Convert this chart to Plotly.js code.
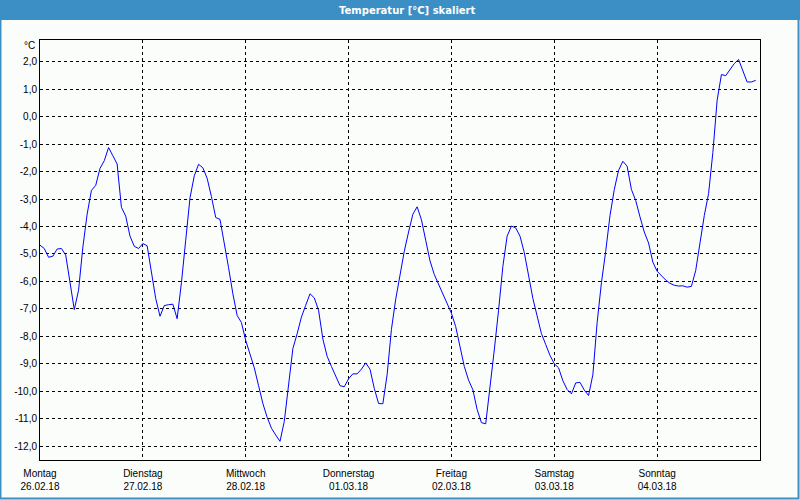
<!DOCTYPE html>
<html>
<head>
<meta charset="utf-8">
<script src="https://cdn.plot.ly/plotly-3.0.1.min.js"></script>
<style>
html,body{margin:0;padding:0;background:#fafdfa;}
#chart{width:800px;height:500px;}
</style>
</head>
<body>
<div id="chart"></div>
<script>
// hourly readings starting 26.02.18 00:00
const startTime = "2018-02-26T00:00:00";
const temps = [
-4.68,-4.80,-5.12,-5.08,-4.82,-4.80,-5.04,-5.96,-7.03,-6.32,
-4.75,-3.55,-2.68,-2.50,-1.88,-1.60,-1.12,-1.42,-1.72,-3.30,
-3.62,-4.35,-4.72,-4.80,-4.62,-4.70,-5.65,-6.62,-7.27,-6.88,
-6.85,-6.83,-7.36,-6.05,-4.50,-2.95,-2.15,-1.73,-1.86,-2.24,
-2.91,-3.67,-3.74,-4.55,-5.50,-6.45,-7.24,-7.50,-8.15,-8.65,
-9.15,-9.80,-10.45,-10.95,-11.35,-11.60,-11.83,-11.10,-9.70,-8.45,
-7.91,-7.30,-6.87,-6.45,-6.60,-7.05,-8.10,-8.73,-9.10,-9.45,
-9.80,-9.84,-9.55,-9.37,-9.37,-9.20,-8.97,-9.20,-9.90,-10.45,
-10.46,-9.40,-7.75,-6.65,-5.75,-4.90,-4.20,-3.55,-3.28,-3.75,
-4.50,-5.25,-5.75,-6.10,-6.45,-6.85,-7.16,-7.65,-8.40,-9.10,
-9.60,-9.95,-10.67,-11.15,-11.19,-9.90,-8.50,-7.05,-5.45,-4.35,
-3.98,-4.05,-4.35,-4.95,-5.75,-6.62,-7.26,-7.90,-8.30,-8.70,
-9.00,-9.15,-9.62,-9.94,-10.10,-9.70,-9.68,-9.96,-10.16,-9.40,
-7.50,-6.05,-4.90,-3.60,-2.65,-1.95,-1.62,-1.80,-2.65,-3.05,
-3.65,-4.20,-4.60,-5.30,-5.63,-5.80,-5.95,-6.07,-6.14,-6.17,
-6.16,-6.21,-6.18,-5.60,-4.60,-3.60,-2.80,-1.30,0.60,1.54,
1.50,1.72,1.94,2.09,1.65,1.27,1.27,1.33
];
const dayNames = ["Montag","Dienstag","Mittwoch","Donnerstag","Freitag","Samstag","Sonntag"];
const dayDates = ["26.02.18","27.02.18","28.02.18","01.03.18","02.03.18","03.03.18","04.03.18"];
const dayTicks = ["2018-02-26","2018-02-27","2018-02-28","2018-03-01","2018-03-02","2018-03-03","2018-03-04"];
const yTicks = [2,1,0,-1,-2,-3,-4,-5,-6,-7,-8,-9,-10,-11,-12];
const yTickText = yTicks.map(v => v.toFixed(1).replace(".", ","));

const t0 = new Date(startTime + "Z").getTime();
const times = temps.map((_, i) => {
  const d = new Date(t0 + i * 3600000);
  return d.toISOString().slice(0,19).replace("T"," ");
});

const fontFam = "Liberation Sans, Arial, sans-serif";
const blue = "#3b8fc4";

const trace = {
  x: times, y: temps, type: "scatter", mode: "lines",
  line: {color: "#0000ff", width: 1}, hoverinfo: "x+y"
};

const layout = {
  width: 800, height: 500,
  margin: {l: 40, r: 40, t: 40, b: 40},
  paper_bgcolor: "#fafdfa", plot_bgcolor: "#fafdfa",
  showlegend: false,
  font: {family: fontFam, size: 10, color: "#000"},
  title: {text: "<b>Temperatur [°C] skaliert</b>", font: {family: "DejaVu Sans, sans-serif", size: 10, color: "#ffffff"},
          x: 0.51, xanchor: "center", xref: "paper", y: 0.98, yref: "container", yanchor: "middle"},
  xaxis: {
    type: "date",
    range: ["2018-02-26 00:00", "2018-03-05 00:00"],
    tickmode: "array",
    tickvals: dayTicks,
    ticktext: dayNames.map((n, i) => n + "<br>" + dayDates[i]),
    showgrid: true, gridcolor: "#000", gridwidth: 1, griddash: "3px,3px",
    showline: true, linecolor: "#000", linewidth: 1, mirror: true,
    ticks: "", zeroline: false, ticklabelstandoff: 4,
    tickfont: {family: fontFam, size: 10, color: "#000"}
  },
  yaxis: {
    range: [-12.51, 2.80],
    tickmode: "array", tickvals: yTicks, ticktext: yTickText,
    showgrid: true, gridcolor: "#000", gridwidth: 1, griddash: "3px,3px",
    showline: true, linecolor: "#000", linewidth: 1, mirror: true,
    ticks: "", zeroline: false,
    tickfont: {family: fontFam, size: 10, color: "#000"}
  },
  shapes: [
    {type: "rect", xref: "paper", yref: "paper", layer: "below",
     x0: -0.06, x1: 1.06, y0: 1.0476, y1: 1.10, fillcolor: blue, line: {width: 0}},
    {type: "rect", xref: "paper", yref: "paper", layer: "below",
     x0: -0.0549, x1: 1.0535, y0: -0.0917, y1: 1.05, fillcolor: "rgba(0,0,0,0)", line: {color: blue, width: 2}}
  ],
  annotations: [
    {text: "°C", xref: "paper", yref: "paper", x: -0.004, y: 0.988, xanchor: "right", yanchor: "middle",
     showarrow: false, font: {family: fontFam, size: 10, color: "#000"}}
  ]
};

Plotly.newPlot("chart", [trace], layout, {displayModeBar: false, staticPlot: true});
</script>
</body>
</html>
